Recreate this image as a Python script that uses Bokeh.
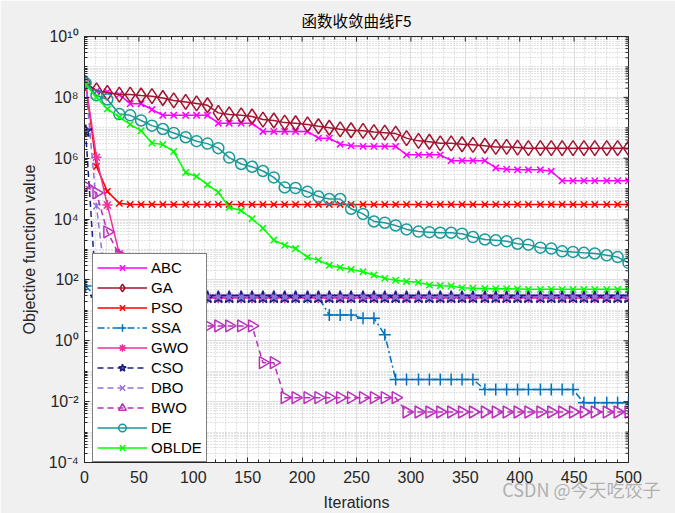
import numpy as np
from bokeh.plotting import figure
from bokeh.models import FixedTicker, Range1d, Title
from bokeh.embed import file_html
from bokeh.resources import INLINE

# Iterations at which the markers (sampled points) are drawn
iterations = [1, 11, 21, 32, 42, 52, 62, 72, 82, 93, 103, 113, 123, 133, 144, 154, 164, 174, 184, 194,
              205, 215, 225, 235, 245, 256, 266, 276, 286, 296, 307, 317, 327, 337, 347, 357, 368, 378, 388, 398,
              408, 419, 429, 439, 449, 459, 469, 480, 490, 500]

# log10 of objective function value
abc_log = [8.47, 8.20, 8.18, 8.09, 7.79, 7.79, 7.60, 7.41, 7.41, 7.41, 7.41, 7.41, 7.15, 7.15, 7.15, 7.15,
           6.88, 6.88, 6.88, 6.88, 6.88, 6.66, 6.66, 6.46, 6.41, 6.39, 6.39, 6.39, 6.39, 6.11, 6.11, 6.11,
           6.11, 5.92, 5.92, 5.92, 5.92, 5.68, 5.64, 5.62, 5.62, 5.62, 5.57, 5.26, 5.26, 5.26, 5.26, 5.26,
           5.26, 5.26]
ga_log = [8.47, 8.23, 8.15, 8.09, 8.09, 8.06, 8.04, 7.98, 7.90, 7.85, 7.80, 7.74, 7.49, 7.44, 7.41, 7.37,
          7.27, 7.24, 7.17, 7.15, 7.11, 7.05, 7.00, 6.95, 6.92, 6.90, 6.86, 6.84, 6.81, 6.66, 6.57, 6.54,
          6.49, 6.49, 6.46, 6.44, 6.41, 6.37, 6.37, 6.35, 6.33, 6.33, 6.33, 6.33, 6.33, 6.33, 6.33, 6.33,
          6.33, 6.33]
pso_log = [8.47, 5.73, 4.91, 4.52] + [4.48] * 46
ssa_log = [1.80] + [1.43] * 21 + [0.85, 0.85, 0.85, 0.74, 0.74, 0.20] + [-1.27] * 8 + [-1.60] * 9 + [-2.04] * 5
gwo_log = [8.47, 6.03, 4.46, 2.86] + [1.41] * 46
cso_log = [6.89] + [1.43] * 49
dbo_log = [8.47, 4.43] + [1.44] * 48
bwo_log = [5.08, 4.86, 3.58, 2.82, 1.60, 0.49, 0.49, 0.49, 0.49, 0.49, 0.49, 0.49, 0.49, 0.49, 0.49, 0.49,
           -0.72, -0.72] + [-1.87] * 11 + [-2.34] * 21
de_log = [8.47, 8.07, 7.93, 7.45, 7.41, 7.24, 7.07, 6.96, 6.83, 6.69, 6.56, 6.48, 6.33, 6.02, 5.81, 5.72,
          5.58, 5.37, 5.04, 5.02, 4.90, 4.74, 4.66, 4.66, 4.34, 4.17, 3.92, 3.88, 3.79, 3.66, 3.59, 3.57,
          3.55, 3.55, 3.52, 3.41, 3.33, 3.30, 3.27, 3.19, 3.16, 3.06, 3.03, 2.94, 2.92, 2.89, 2.87, 2.81,
          2.75, 2.56]
oblde_log = [8.42, 8.00, 7.62, 7.35, 7.11, 6.90, 6.50, 6.45, 6.22, 5.53, 5.40, 5.13, 4.88, 4.39, 4.28, 4.01,
             3.70, 3.31, 3.14, 3.03, 2.75, 2.65, 2.48, 2.41, 2.34, 2.27, 2.16, 2.05, 1.99, 1.95, 1.92, 1.83,
             1.81, 1.80, 1.74, 1.73, 1.72, 1.71, 1.71, 1.70, 1.69, 1.69, 1.69, 1.69, 1.69, 1.69, 1.69, 1.69,
             1.69, 1.69]

names = ["ABC", "GA", "PSO", "SSA", "GWO", "CSO", "DBO", "BWO", "DE", "OBLDE"]
x_ticks = [0, 50, 100, 150, 200, 250, 300, 350, 400, 450, 500]
y_exponents = [-4, -2, 0, 2, 4, 6, 8, 10]
y_tick_labels = ["10⁻⁴", "10⁻²", "10⁰", "10²", "10⁴", "10⁶", "10⁸", "10¹⁰"]

series = [
    (abc_log, "#FF00FF", "solid", "x", 9, 0.0, None),
    (ga_log, "#A2142F", "solid", "diamond", 15, 0.0, None),
    (pso_log, "#FF0000", "solid", "x", 9, 0.0, None),
    (ssa_log, "#0072BD", "7 3 2 3", "cross", 12, 0.0, None),
    (gwo_log, "#F0309A", "solid", "asterisk", 10, 0.0, None),
    (cso_log, "#1C1C80", "6 4", "star", 13, 0.0, "#7E6FD6"),
    (dbo_log, "#9370DB", "6 4", "x", 9, 0.0, None),
    (bwo_log, "#BB2FBB", "6 4", "triangle", 12, -np.pi / 2, None),
    (de_log, "#1A9999", "solid", "circle", 11, 0.0, None),
    (oblde_log, "#00FF00", "solid", "x", 9, 0.0, None),
]

FONT = "Liberation Sans"
AX = "#262626"
X_MIN, X_MAX = 0, 500
Y_MIN, Y_MAX = 1e-4, 1e10

p = figure(width=675, height=513, x_range=Range1d(X_MIN, X_MAX), y_range=Range1d(Y_MIN, Y_MAX),
           y_axis_type="log", output_backend="svg", toolbar_location=None,
           min_border_left=84, min_border_right=47, min_border_top=35, min_border_bottom=51,
           background_fill_color="white", border_fill_color="#F0F0F0")

p.title.text = "函数收敛曲线F5"
p.title.text_font = "Noto Sans CJK SC"
p.title.text_font_style = "normal"
p.title.text_font_size = "15.5px"
p.title.text_color = "#000000"
p.title.align = "center"
p.title.standoff = 12

y_major = [10.0 ** e for e in y_exponents]
y_minor = []
for n in range(-4, 10):
    for k in range(1, 10):
        v = k * 10.0 ** n
        if not (k == 1 and n in y_exponents):
            y_minor.append(v)
x_minor = [v for v in range(0, 501, 10) if v % 50 != 0]

xt = FixedTicker(ticks=x_ticks, minor_ticks=x_minor)
yt = FixedTicker(ticks=y_major, minor_ticks=y_minor)
overrides = {10.0 ** e: lab for e, lab in zip(y_exponents, y_tick_labels)}

p.xaxis.ticker = xt
p.yaxis.ticker = yt
p.yaxis.major_label_overrides = overrides

p.yaxis.axis_label = "Objective function value"
for ax in [p.xaxis[0], p.yaxis[0]]:
    ax.axis_line_color = AX
    ax.major_tick_line_color = AX
    ax.minor_tick_line_color = AX
    ax.major_tick_in = 5
    ax.major_tick_out = 0
    ax.minor_tick_in = 3
    ax.minor_tick_out = 0
    ax.major_label_text_font = FONT
    ax.major_label_text_font_size = "16px"
    ax.major_label_text_color = AX
    ax.axis_label_text_font = FONT
    ax.axis_label_text_font_size = "16px"
    ax.axis_label_text_font_style = "normal"
    ax.axis_label_text_color = AX
p.xaxis.major_label_standoff = 8
p.yaxis.major_label_standoff = 6
p.yaxis.axis_label_standoff = 8

p.outline_line_color = AX
for g in [p.xgrid[0], p.ygrid[0]]:
    g.grid_line_color = "#DEDEDE"
    g.minor_grid_line_color = "#C4C4C4"
    g.minor_grid_line_dash = "1 2"

for name, (vals, color, dash, marker, size, angle, fill) in zip(names, series):
    yv = [10.0 ** v for v in vals]
    p.line(iterations, yv, line_color=color, line_width=1.5, line_dash=dash, legend_label=name)
    p.scatter(iterations, yv, marker=marker, size=size, angle=angle, line_color=color,
              fill_color=fill, fill_alpha=0.8, line_width=1.5, legend_label=name)

# inward box ticks on the top and right edges (half of each dash is clipped by the frame)
p.scatter(x_ticks, [Y_MAX] * len(x_ticks), marker="dash", angle=np.pi / 2, size=10, line_color=AX, line_width=1)
p.scatter(x_minor, [Y_MAX] * len(x_minor), marker="dash", angle=np.pi / 2, size=6, line_color=AX, line_width=1)
p.scatter([X_MAX] * len(y_major), y_major, marker="dash", size=10, line_color=AX, line_width=1)
p.scatter([X_MAX] * len(y_minor), y_minor, marker="dash", size=6, line_color=AX, line_width=1)

lg = p.legend[0]
lg.location = (8, 0)
lg.margin = 0
lg.padding = 4
lg.spacing = 1
lg.glyph_height = 19
lg.label_height = 19
lg.glyph_width = 50
lg.label_standoff = 4
lg.label_text_font = FONT
lg.label_text_font_size = "15px"
lg.label_text_color = "#000000"
lg.border_line_color = "#000000"
lg.border_line_width = 1
lg.background_fill_color = "white"
lg.background_fill_alpha = 1.0

# bottom panel: tick labels (axis), then the watermark (pulled up), then the x-axis title
wm = Title(text="CSDN @今天吃饺子", align="right", offset=-32, standoff=-20, vertical_align="top",
           text_font="Noto Sans CJK SC", text_font_size="18px", text_font_style="normal",
           text_color="#9A9A9A", text_alpha=0.75)
p.add_layout(wm, "below")
xlab = Title(text="Iterations", align="center", standoff=0, vertical_align="top",
             text_font=FONT, text_font_size="16px", text_font_style="normal", text_color=AX)
p.add_layout(xlab, "below")

open("out.html", "w").write(file_html(p, INLINE))
